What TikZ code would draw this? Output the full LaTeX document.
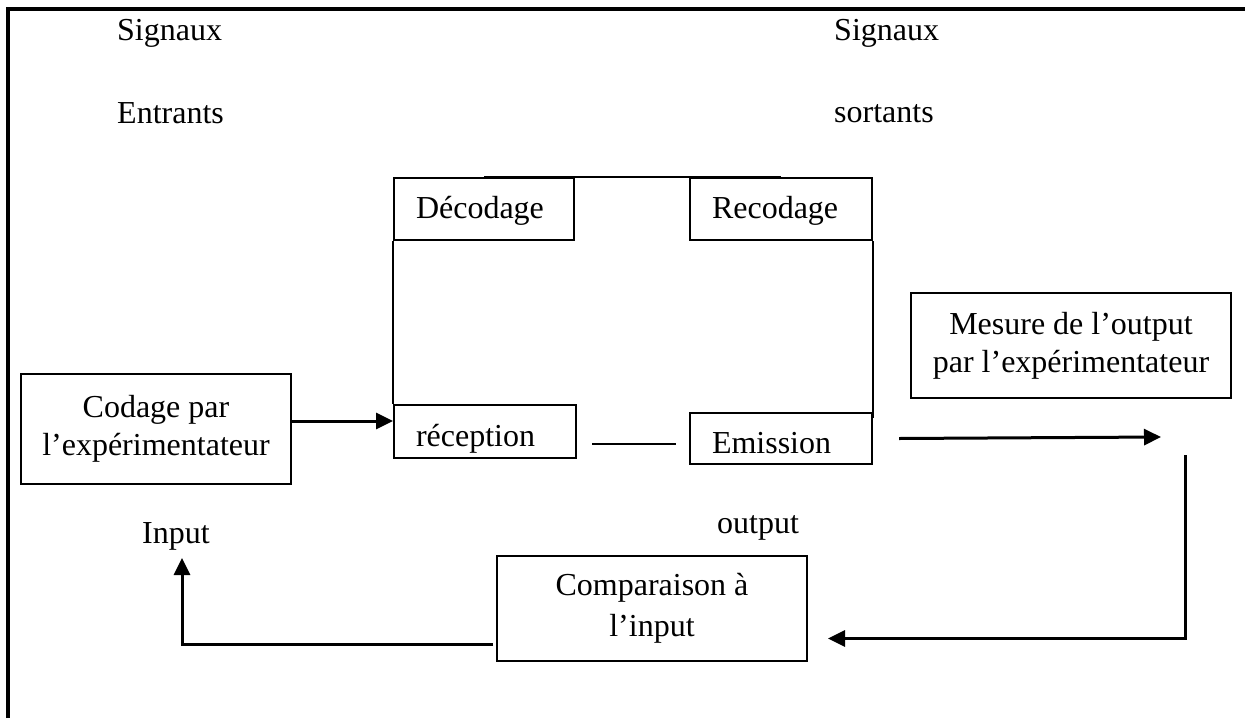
\documentclass[tikz,border=0pt]{standalone}
\usepackage{fontspec}
\setmainfont{Liberation Serif}
\usetikzlibrary{arrows.meta,calc}
\begin{document}
\begin{tikzpicture}[x=1pt,y=-1pt,
  box/.style={draw,line width=2pt,rectangle,inner sep=0pt,anchor=north west,font=\fontsize{32}{38}\selectfont},
  lbox/.style={box,align=left,text depth=0pt},
  cbox/.style={box,align=center},
  txt/.style={font=\fontsize{32}{38}\selectfont,inner sep=0pt,anchor=base west},
  thin/.style={line width=2pt},
  conn/.style={line width=3pt},
  arr/.style={conn,-{Triangle[length=17pt,width=16pt]}}]
\useasboundingbox (0,0) rectangle (1245,718);
% frame
\draw[line width=3.2pt] (8,718) -- (8,9) -- (1245,9);
% labels
\node[txt] (sig1) at (117,40) {Signaux};
\node[txt] (ent) at (117,123) {Entrants};
\node[txt] (sig2) at (834,40) {Signaux};
\node[txt] (sor) at (834,122) {sortants};
\node[txt] (inp) at (142,543) {Input};
\node[txt] (outp) at (717,533) {output};
% boxes
\node[lbox,minimum width=180pt,minimum height=62pt,text width=136pt,text height=18pt] (dec) at (393,177) {Décodage};
\node[lbox,minimum width=182pt,minimum height=62pt,text width=138pt,text height=18pt] (rec) at (689,177) {Recodage};
\node[lbox,minimum width=182pt,minimum height=53pt,text width=138pt,text height=29pt] (recep) at (393,404) {réception};
\node[lbox,minimum width=182pt,minimum height=51pt,text width=138pt,text height=29pt] (emi) at (689,412) {Emission};
\node[cbox,minimum width=270pt,minimum height=110pt] (codage) at (20,373) {Codage par\\l’expérimentateur};
\node[cbox,minimum width=320pt,minimum height=105pt] (mes) at (910,292) {Mesure de l’output\\par l’expérimentateur};
\node[cbox,minimum width=310pt,minimum height=105pt] (comp) at (496,555) {Comparaison à\\[3pt]l’input};
% inner connections
\draw[thin] (dec.north) -- (rec.north);
\draw[thin] (dec.south west) -- (recep.north west);
\draw[thin] (rec.south east) -- ($(emi.north east)+(0,6)$);
\draw[thin] ($(recep.east |- emi.west)+(15,5)$) -- ($(emi.west)+(-13,5)$);
% arrows
\coordinate (c1) at ($(codage.east)+(0,-8)$);
\draw[arr] (c1) -- (c1 -| recep.west);
\coordinate (mtip) at (1161,437);
\draw[arr] ($(emi.east)+(26,0)$) -- (mtip);
\coordinate (r1) at (1185,455);
\coordinate (r2) at ($(comp.east)+(20,30)$);
\draw[arr] (r1) -- (r1 |- r2) -- (r2);
\coordinate (l1) at ($(comp.west)+(-3,35.5)$);
\coordinate (itip) at (182,558);
\draw[arr] (l1) -- (itip |- l1) -- (itip);
\end{tikzpicture}
\end{document}
